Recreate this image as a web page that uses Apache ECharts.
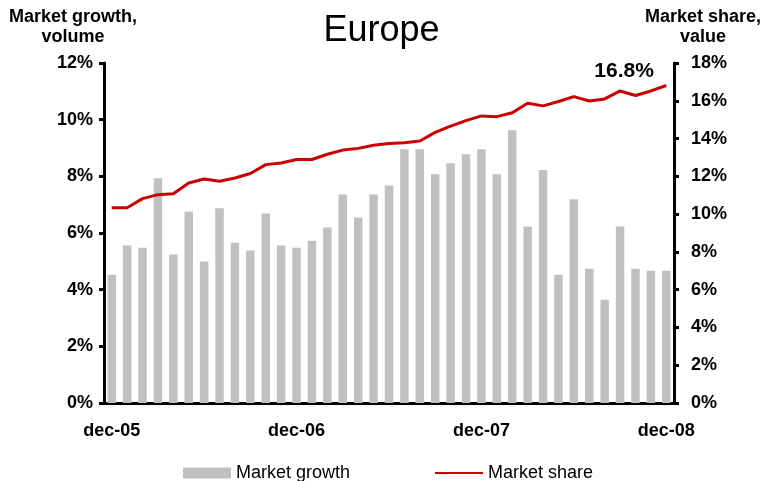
<!DOCTYPE html>
<html>
<head>
<meta charset="utf-8">
<script src="https://cdn.jsdelivr.net/npm/echarts@6/dist/echarts.min.js"></script>
<style>
  html, body { margin: 0; padding: 0; background: #fff; }
  #chart { width: 763px; height: 481px; }
</style>
</head>
<body>
<div id="chart"></div>
<script>
// months dec-05 .. dec-08
var months = ['dec-05','jan-06','feb-06','mar-06','apr-06','may-06','jun-06','jul-06','aug-06','sep-06','oct-06','nov-06',
  'dec-06','jan-07','feb-07','mar-07','apr-07','may-07','jun-07','jul-07','aug-07','sep-07','oct-07','nov-07',
  'dec-07','jan-08','feb-08','mar-08','apr-08','may-08','jun-08','jul-08','aug-08','sep-08','oct-08','nov-08','dec-08'];

// market growth, volume (%)
var growth = [4.53, 5.56, 5.48, 7.93, 5.24, 6.76, 4.99, 6.87, 5.66, 5.38, 6.69, 5.56,
  5.48, 5.73, 6.19, 7.36, 6.55, 7.36, 7.68, 8.96, 8.96, 8.07, 8.46, 8.78,
  8.96, 8.07, 9.63, 6.23, 8.22, 4.53, 7.19, 4.74, 3.64, 6.23, 4.74, 4.67, 4.67];

// market share, value (%)
var share = [10.34, 10.34, 10.82, 11.03, 11.08, 11.65, 11.86, 11.74, 11.91, 12.15, 12.62, 12.71,
  12.89, 12.89, 13.17, 13.39, 13.48, 13.65, 13.74, 13.78, 13.87, 14.33, 14.66, 14.95,
  15.20, 15.16, 15.37, 15.87, 15.73, 15.96, 16.22, 15.99, 16.10, 16.52, 16.28, 16.52, 16.81];

var boldLabel = { color: '#000', fontFamily: 'Liberation Sans', fontWeight: 'bold', fontSize: 18 };

var chart = echarts.init(document.getElementById('chart'));
chart.setOption({
  animation: false,
  title: {
    text: 'Europe',
    left: 'center',
    top: 8,
    textStyle: { fontFamily: 'Liberation Sans', fontWeight: 'normal', fontSize: 36, color: '#000' }
  },
  graphic: [
    { type: 'text', x: 73, y: 7, style: { text: 'Market growth,\nvolume', font: 'bold 18px "Liberation Sans"', lineHeight: 20, fill: '#000', align: 'center', verticalAlign: 'top' } },
    { type: 'text', x: 703, y: 7, style: { text: 'Market share,\nvalue', font: 'bold 18px "Liberation Sans"', lineHeight: 20, fill: '#000', align: 'center', verticalAlign: 'top' } }
  ],
  legend: {
    left: 178,
    top: 459,
    itemGap: 84,
    itemWidth: 48,
    itemHeight: 11,
    textStyle: { fontFamily: 'Liberation Sans', fontSize: 18, color: '#000' },
    data: [
      { name: 'Market growth', icon: 'rect' },
      { name: 'Market share', itemStyle: { color: 'rgba(0,0,0,0)', borderWidth: 0 } }
    ]
  },
  grid: { left: 104, right: 89, top: 63, bottom: 78 },
  xAxis: {
    type: 'category',
    data: months,
    boundaryGap: true,
    axisLine: { lineStyle: { color: '#000', width: 3 } },
    axisTick: { interval: 2, length: 5, lineStyle: { color: '#000', width: 3 } },
    axisLabel: Object.assign({ interval: 11, margin: 19 }, boldLabel)
  },
  yAxis: [
    {
      type: 'value', min: 0, max: 12, interval: 2, position: 'left',
      splitLine: { show: false },
      axisLine: { show: true, lineStyle: { color: '#000', width: 3 } },
      axisTick: { show: true, length: 5, lineStyle: { color: '#000', width: 3 } },
      axisLabel: Object.assign({ formatter: '{value}%', margin: 11 }, boldLabel)
    },
    {
      type: 'value', min: 0, max: 18, interval: 2, position: 'right',
      splitLine: { show: false },
      axisLine: { show: true, lineStyle: { color: '#000', width: 3 } },
      axisTick: { show: true, length: 5, lineStyle: { color: '#000', width: 3 } },
      axisLabel: Object.assign({ formatter: '{value}%', margin: 17 }, boldLabel)
    }
  ],
  series: [
    {
      name: 'Market growth',
      type: 'bar',
      yAxisIndex: 0,
      data: growth,
      barCategoryGap: '45%',
      itemStyle: { color: '#c0c0c0' }
    },
    {
      name: 'Market share',
      type: 'line',
      yAxisIndex: 1,
      data: share,
      symbol: 'circle',
      showSymbol: false,
      lineStyle: { color: '#cc0000', width: 3 },
      itemStyle: { color: '#cc0000' },
      endLabel: {
        show: true,
        offset: [-80, -14],
        fontFamily: 'Liberation Sans',
        fontWeight: 'bold',
        fontSize: 21,
        color: '#000',
        formatter: function (p) { return p.value.toFixed(1) + '%'; }
      }
    }
  ]
});
</script>
</body>
</html>
